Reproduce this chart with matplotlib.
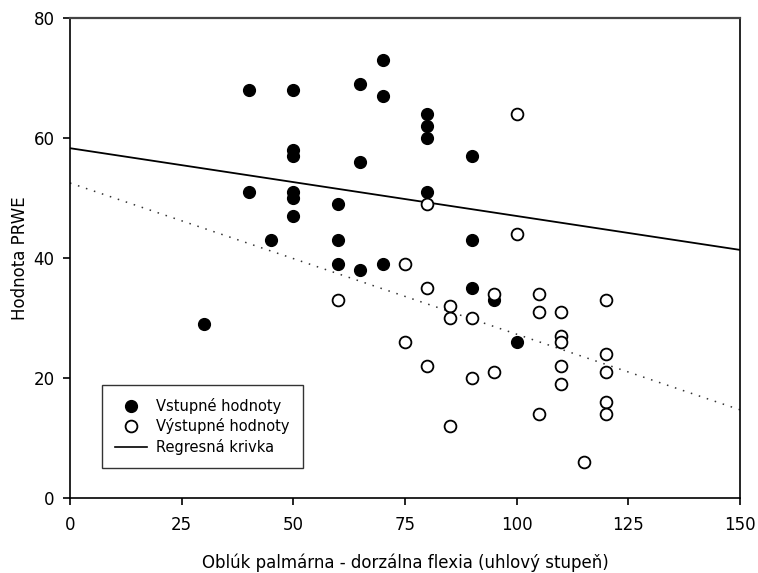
import matplotlib
matplotlib.use("Agg")
import matplotlib.pyplot as plt
from matplotlib.lines import Line2D
import numpy as np

# Vstupné hodnoty (filled)
vst_x = [30, 40, 40, 45, 50, 50, 50, 50, 50, 50, 60, 60, 60, 65, 65, 65,
         70, 70, 70, 80, 80, 80, 80, 90, 90, 90, 95, 100]
vst_y = [29, 68, 51, 43, 68, 58, 57, 51, 50, 47, 49, 43, 39, 69, 56, 38,
         73, 67, 39, 64, 62, 60, 51, 57, 43, 35, 33, 26]

# Výstupné hodnoty (open)
vys_x = [60, 75, 75, 80, 80, 80, 85, 85, 85, 90, 90, 95, 95, 100, 100,
         105, 105, 105, 110, 110, 110, 110, 110, 115, 120, 120, 120, 120, 120]
vys_y = [33, 39, 26, 49, 35, 22, 32, 30, 12, 30, 20, 34, 21, 64, 44,
         34, 31, 14, 31, 27, 26, 22, 19, 6, 33, 24, 21, 16, 14]

# regression lines (intercept, slope)
reg_solid = (58.3, -0.113)
reg_dotted = (52.5, -0.252)

x_ticks = [0, 25, 50, 75, 100, 125, 150]
y_ticks = [0, 20, 40, 60, 80]

fig = plt.figure(figsize=(7.58, 5.73), dpi=100)
ax = fig.add_axes([70 / 758, 75 / 573, 670 / 758, 480 / 573])

xs = np.array([0, 150])
ax.plot(xs, reg_solid[0] + reg_solid[1] * xs, color="black", lw=1.3, zorder=2)
ax.plot(xs, reg_dotted[0] + reg_dotted[1] * xs, color="#333333", lw=1.1,
        linestyle=(0, (1, 4.5)), zorder=2)

ax.scatter(vst_x, vst_y, s=72, color="black", zorder=3)
ax.scatter(vys_x, vys_y, s=72, facecolor="white", edgecolor="black",
           linewidth=1.3, zorder=4)

ax.set_xlim(0, 150)
ax.set_ylim(0, 80)
ax.set_xticks(x_ticks)
ax.set_yticks(y_ticks)
ax.tick_params(direction="out", length=5, width=1.2, labelsize=12, pad=8)
ax.tick_params(axis="y", pad=6)
for sp in ax.spines.values():
    sp.set_linewidth(1.2)
ax.spines["top"].set_color("#444444")
ax.spines["top"].set_linewidth(1.6)

ax.set_xlabel("Oblúk palmárna - dorzálna flexia (uhlový stupeň)", fontsize=12,
              labelpad=14)
ax.set_ylabel("Hodnota PRWE", fontsize=12, labelpad=3)

handles = [
    Line2D([], [], marker="o", color="black", linestyle="none", markersize=8.5),
    Line2D([], [], marker="o", markerfacecolor="white", markeredgecolor="black",
           markeredgewidth=1.3, linestyle="none", markersize=8.5),
    Line2D([], [], color="black", lw=1.2),
]
leg = ax.legend(handles, ["Vstupné hodnoty", "Výstupné hodnoty", "Regresná krivka"],
                loc="lower left", bbox_to_anchor=(0.048, 0.0625), fontsize=10.5,
                frameon=True, fancybox=False, edgecolor="black",
                borderpad=0.9, handlelength=2.2, labelspacing=0.3,
                handletextpad=0.6, borderaxespad=0)
leg.get_frame().set_linewidth(1.0)

fig.savefig("out.png", dpi=100)
